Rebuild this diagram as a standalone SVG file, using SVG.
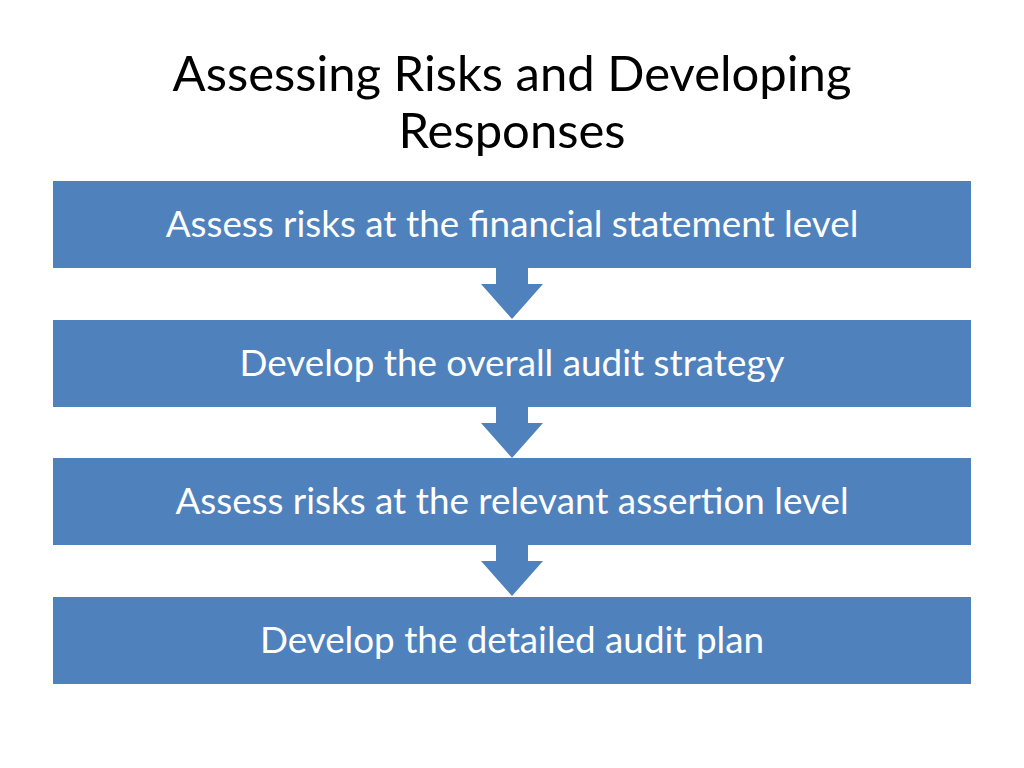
<svg xmlns="http://www.w3.org/2000/svg" width="1024" height="768" viewBox="0 0 1024 768">
<style>
.title{font-family:"Lato","Open Sans","Liberation Sans",sans-serif;font-size:49px;fill:#000;text-anchor:middle}
.box{fill:#4F81BD}
.lbl{font-family:"Lato","Open Sans","Liberation Sans",sans-serif;font-size:36.8px;fill:#fff;text-anchor:middle;dominant-baseline:central}
.arr{fill:#4F81BD}
</style>
<rect width="1024" height="768" fill="#fff"/>
<g id="title">
<text class="title" x="512" y="91">Assessing Risks and Developing</text>
<text class="title" x="512" y="148">Responses</text>
</g>
<g id="connectors">
<polygon class="arr" points="496,268 528,268 528,284 543,284 512,319 481,284 496,284"/>
<polygon class="arr" points="496,407 528,407 528,423 543,423 512,458 481,423 496,423"/>
<polygon class="arr" points="496,545 528,545 528,561 543,561 512,596 481,561 496,561"/>
</g>
<g id="n1"><rect class="box" x="53" y="181" width="918" height="87"/><text class="lbl" x="512" y="223">Assess risks at the financial statement level</text></g>
<g id="n2"><rect class="box" x="53" y="320" width="918" height="87"/><text class="lbl" x="512" y="362">Develop the overall audit strategy</text></g>
<g id="n3"><rect class="box" x="53" y="458" width="918" height="87"/><text class="lbl" x="512" y="500">Assess risks at the relevant assertion level</text></g>
<g id="n4"><rect class="box" x="53" y="597" width="918" height="87"/><text class="lbl" x="512" y="639">Develop the detailed audit plan</text></g>
</svg>
